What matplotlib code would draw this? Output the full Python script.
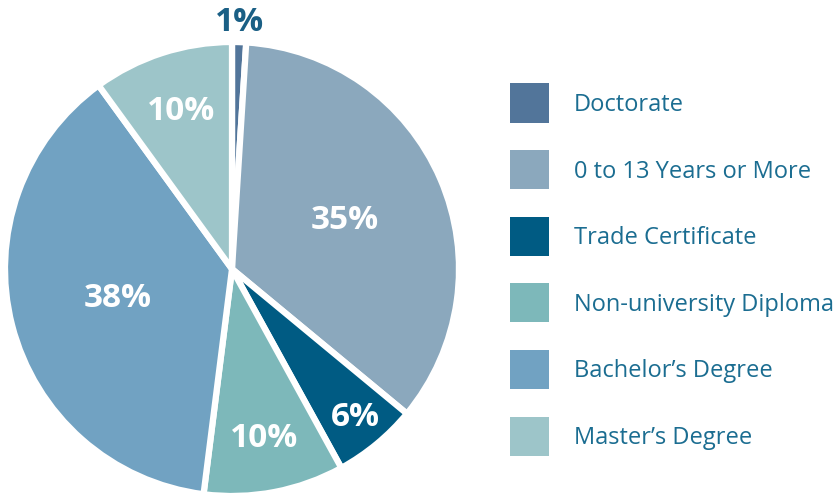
import matplotlib
matplotlib.use("Agg")
import matplotlib.pyplot as plt
from matplotlib.patches import Rectangle
import numpy as np

categories = ["Doctorate", "0 to 13 Years or More", "Trade Certificate",
              "Non-university Diploma", "Bachelor\u2019s Degree", "Master\u2019s Degree"]
values = [1, 35, 6, 10, 38, 10]
labels = ["1%", "35%", "6%", "10%", "38%", "10%"]
colors = ["#52759A", "#8BA8BD", "#005B83", "#7DB8BA", "#71A2C2", "#9DC5C9"]
label_radius = [1.085, 0.54, 0.85, 0.76, 0.52, 0.73]
label_colors = ["#1A5F85", "white", "white", "white", "white", "white"]

plt.rcParams['font.family'] = ['Open Sans', 'DejaVu Sans']

W, H = 838, 494
fig = plt.figure(figsize=(W / 100, H / 100), dpi=100)
cx, cy, r = 232, 269, 227
ax = fig.add_axes([(cx - r) / W, (H - cy - r) / H, 2 * r / W, 2 * r / H])
wedges, _ = ax.pie(values, colors=colors, startangle=90, counterclock=False,
                   radius=1.0, wedgeprops=dict(edgecolor="white", linewidth=4.5))
ax.set_xlim(-1, 1)
ax.set_ylim(-1, 1)
ax.set_aspect("equal")
ax.axis("off")

for w, lab, rf, lc in zip(wedges, labels, label_radius, label_colors):
    mid = np.deg2rad((w.theta1 + w.theta2) / 2)
    ax.text(rf * np.cos(mid), rf * np.sin(mid), lab, ha="center", va="center",
            fontsize=24, fontweight="bold", color=lc, clip_on=False)

# legend
lx, ly0, step, sq = 510, 103, 66.6, 39
for i, (cat, col) in enumerate(zip(categories, colors)):
    yc = ly0 + i * step
    fig.patches.append(Rectangle(((lx) / W, (H - yc - sq / 2) / H), sq / W, sq / H,
                                 transform=fig.transFigure, facecolor=col, edgecolor="none"))
    fig.text(574 / W, (H - yc - 2) / H, cat, ha="left", va="center",
             fontsize=17, color="#1B6D91")

fig.savefig("out.png", dpi=100)
